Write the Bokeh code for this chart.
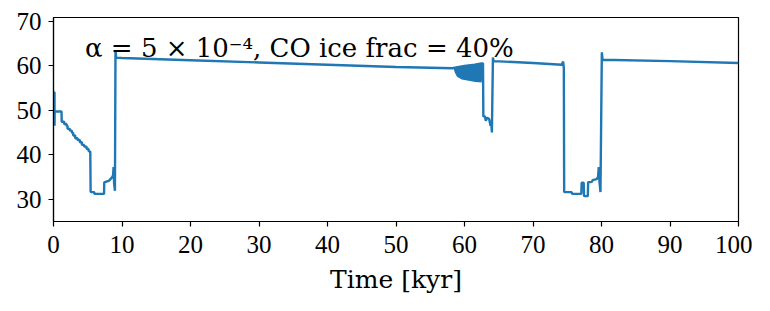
from bokeh.plotting import figure
from bokeh.models import Range1d, FixedTicker, ColumnDataSource
from bokeh.embed import file_html
from bokeh.resources import INLINE
from bokeh.core.properties import value

# ---- data ----
time_kyr = [
    0.0, 0.15, 0.15, 0.17, 1.17, 1.2, 1.56, 1.56, 1.9, 1.9, 2.05, 2.05, 2.39, 2.39,
    2.69, 2.69, 2.88, 2.88, 3.17, 3.17, 3.51, 3.51, 3.85, 3.85, 4.15, 4.15, 4.49,
    4.49, 4.83, 4.83, 5.12, 5.12, 5.37, 5.42, 5.95, 5.97, 7.38, 7.41, 8.14, 8.54,
    8.7, 8.77, 8.85, 8.97, 9.05, 9.15,
    10.0, 20.0, 30.0, 40.0, 50.0, 58.3, 58.4, 60.0, 61.5, 62.5, 62.7,
    62.75, 63.0, 63.1, 63.3, 63.6, 63.8, 63.9, 64.0, 64.15, 64.25,
    70.0, 74.2, 74.4, 74.5, 74.55,
    75.65, 75.7, 77.05, 77.1, 77.4, 77.45, 78.0, 78.05, 78.6, 78.7, 79.3, 79.5,
    79.6, 79.7, 79.85, 80.05, 80.15, 90.0, 100.0,
]
angle_deg = [
    54.0, 54.0, 46.5, 49.7, 49.7, 47.4, 47.4, 46.9, 46.9, 46.5, 46.5, 45.8, 45.8,
    45.4, 45.4, 44.9, 44.9, 44.3, 44.3, 43.7, 43.7, 43.3, 43.3, 42.8, 42.8, 42.2,
    42.2, 41.8, 41.8, 41.3, 41.3, 40.8, 40.7, 31.6, 31.6, 31.2, 31.2, 33.8, 34.2,
    34.9, 35.4, 37.2, 33.5, 31.9, 63.5, 61.8,
    61.7, 61.2, 60.7, 60.2, 59.7, 59.4, 59.5, 59.9, 60.2, 60.5, 60.5,
    48.6, 48.6, 47.6, 48.3, 48.0, 46.5, 47.3, 45.0, 61.8, 61.0,
    60.6, 60.2, 60.9, 59.5, 31.6,
    31.6, 31.2, 31.2, 33.7, 33.7, 30.7, 30.7, 33.8, 33.9, 34.3, 34.5, 35.0,
    37.2, 34.0, 31.6, 63.0, 61.3, 61.0, 60.6,
]

# oscillation band near 58-62.5 kyr
band_t = [58.4, 58.6, 58.9, 59.6, 60.6, 61.6, 62.5, 62.65]
band_lo = [59.3, 58.4, 57.5, 56.9, 56.6, 56.3, 56.2, 58.0]
band_hi = [59.5, 59.6, 59.7, 59.9, 60.1, 60.3, 60.5, 60.5]

x_ticks = [0, 10, 20, 30, 40, 50, 60, 70, 80, 90, 100]
y_ticks = [30, 40, 50, 60, 70]

annotation = "α = 5 × 10⁻⁴, CO ice frac = 40%"
x_label = "Time [kyr]"

FONT = "Liberation Serif"
BLUE = "#1f77b4"

p = figure(
    frame_width=685, frame_height=204,
    x_range=Range1d(0, 100), y_range=Range1d(25, 70.8),
    output_backend="svg", toolbar_location=None,
    min_border_left=53, min_border_top=17, min_border_right=14, min_border_bottom=8,
    background_fill_color="white", border_fill_color="white",
)
p.grid.visible = False
p.outline_line_color = "black"
p.outline_line_width = 1.2
p.outline_line_alpha = 1.0

for ax in (p.xaxis[0], p.yaxis[0]):
    ax.major_label_text_font = FONT
    ax.major_label_text_font_size = "25px"
    ax.major_label_text_color = "black"
    ax.axis_line_color = "black"
    ax.axis_line_width = 1.2
    ax.major_tick_line_color = "black"
    ax.major_tick_line_width = 1.2
    ax.major_tick_in = 0
    ax.major_tick_out = 5
    ax.minor_tick_line_color = None

p.xaxis.ticker = FixedTicker(ticks=x_ticks)
p.yaxis.ticker = FixedTicker(ticks=y_ticks)
p.xaxis.major_label_standoff = 9
p.yaxis.major_label_standoff = 7
p.xaxis.axis_label = x_label
p.xaxis.axis_label_text_font = "DejaVu Serif"
p.xaxis.axis_label_text_font_size = "25px"
p.xaxis.axis_label_text_font_style = "normal"
p.xaxis.axis_label_text_color = "black"
p.xaxis.axis_label_standoff = 9

p.varea(x=band_t, y1=band_lo, y2=band_hi, fill_color=BLUE)
p.line(time_kyr, angle_deg, line_color=BLUE, line_width=2.4)

src = ColumnDataSource(dict(x=[4.6], y=[63.9], t=[annotation]))
p.text(x="x", y="y", text="t", source=src, text_font=value("DejaVu Serif"),
       text_font_size="26px", text_color="black", text_baseline="alphabetic",
       text_align="left")

open("out.html", "w").write(file_html(p, INLINE))
